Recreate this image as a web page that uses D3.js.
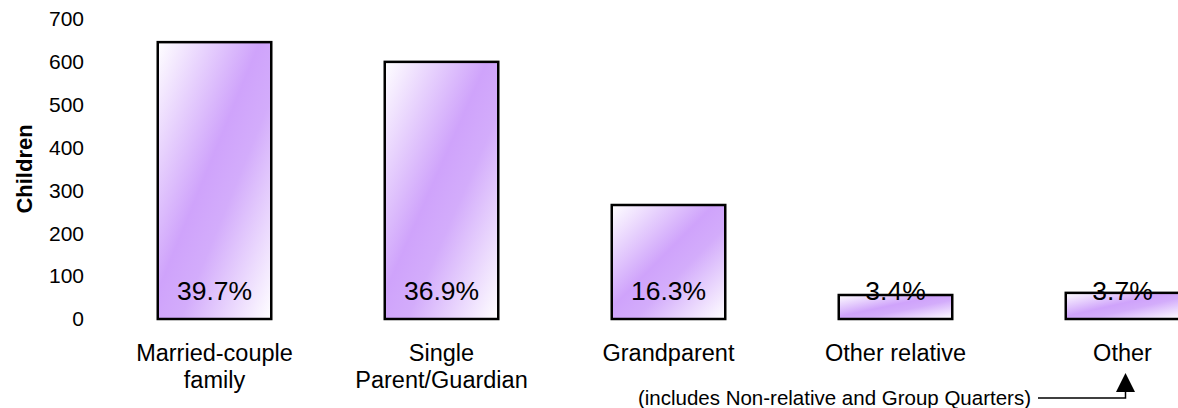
<!DOCTYPE html>
<html>
<head>
<meta charset="utf-8">
<style>
  body { margin: 0; background: #fff; }
  text { font-family: Arial, "Liberation Sans", sans-serif; fill: #000; }
</style>
</head>
<body>
<script src="https://d3js.org/d3.v7.min.js"></script>
<script>
// data
var categories = ["Married-couple family", "Single Parent/Guardian", "Grandparent", "Other relative", "Other"];
var labelLines = [["Married-couple", "family"], ["Single", "Parent/Guardian"], ["Grandparent"], ["Other relative"], ["Other"]];
var children = [646, 600, 266, 56, 61];
var percents = ["39.7%", "36.9%", "16.3%", "3.4%", "3.7%"];
var yTicks = [0, 100, 200, 300, 400, 500, 600, 700];
var noteText = "(includes Non-relative and Group Quarters)";

var width = 1178, height = 408;

var svg = d3.select("body").append("svg")
    .attr("width", width)
    .attr("height", height);

// gradient fill for the bars
var grad = svg.append("defs").append("linearGradient")
    .attr("id", "barFill")
    .attr("x1", 0).attr("y1", 0)
    .attr("x2", 1).attr("y2", 1);
grad.append("stop").attr("offset", "0%").attr("stop-color", "#ffffff");
grad.append("stop").attr("offset", "45%").attr("stop-color", "#cfa3fb");
grad.append("stop").attr("offset", "60%").attr("stop-color", "#d3acfb");
grad.append("stop").attr("offset", "100%").attr("stop-color", "#ffffff");

var x = d3.scaleBand()
    .domain(categories)
    .range([101, 1236])
    .paddingInner(0.5)
    .paddingOuter(0.25);

var y = d3.scaleLinear()
    .domain([0, 700])
    .range([319, 19]);

// y axis (labels only)
var yAxis = d3.axisLeft(y)
    .tickValues(yTicks)
    .tickSize(0)
    .tickPadding(0);

svg.append("g")
    .attr("class", "y axis")
    .attr("transform", "translate(84,0)")
    .call(yAxis)
    .call(function(g) { g.select(".domain").remove(); })
    .selectAll("text")
    .attr("font-family", "Arial, 'Liberation Sans', sans-serif")
    .attr("font-size", 21)
    .attr("fill", "#000");

svg.append("text")
    .attr("transform", "translate(24," + y(350) + ") rotate(-90)")
    .attr("text-anchor", "middle")
    .attr("dy", "0.35em")
    .attr("font-size", 22)
    .attr("font-weight", "bold")
    .text("Children");

// bars
svg.selectAll(".bar")
    .data(categories)
    .enter().append("rect")
    .attr("class", "bar")
    .attr("x", function(d) { return x(d); })
    .attr("y", function(d, i) { return y(children[i]); })
    .attr("width", x.bandwidth())
    .attr("height", function(d, i) { return y(0) - y(children[i]); })
    .style("fill", "url(#barFill)")
    .style("stroke", "#000")
    .style("stroke-width", 2.5);

// percent labels
svg.selectAll(".pct")
    .data(categories)
    .enter().append("text")
    .attr("class", "pct")
    .attr("x", function(d) { return x(d) + x.bandwidth() / 2; })
    .attr("y", 300)
    .attr("text-anchor", "middle")
    .attr("font-size", 26.5)
    .text(function(d, i) { return percents[i]; });

// category labels
var cat = svg.selectAll(".cat")
    .data(categories)
    .enter().append("text")
    .attr("class", "cat")
    .attr("text-anchor", "middle")
    .attr("font-size", 23.5);

cat.selectAll("tspan")
    .data(function(d, i) { return labelLines[i].map(function(t) { return {t: t, c: d}; }); })
    .enter().append("tspan")
    .attr("x", function(d) { return x(d.c) + x.bandwidth() / 2; })
    .attr("y", function(d, j) { return 361 + j * 27; })
    .text(function(d) { return d.t; });

// note with arrow pointing to "Other"
var ax = x("Other") + x.bandwidth() / 2 + 3;
svg.append("text")
    .attr("x", 1031)
    .attr("y", 405)
    .attr("text-anchor", "end")
    .attr("font-size", 20.5)
    .text(noteText);

svg.append("path")
    .attr("d", "M1038,398 H" + ax + " V390")
    .style("fill", "none")
    .style("stroke", "#000")
    .style("stroke-width", 1.5);

svg.append("path")
    .attr("d", "M" + ax + ",373 L" + (ax + 9.5) + ",392 L" + (ax - 9.5) + ",392 Z")
    .style("fill", "#000");
</script>
</body>
</html>
